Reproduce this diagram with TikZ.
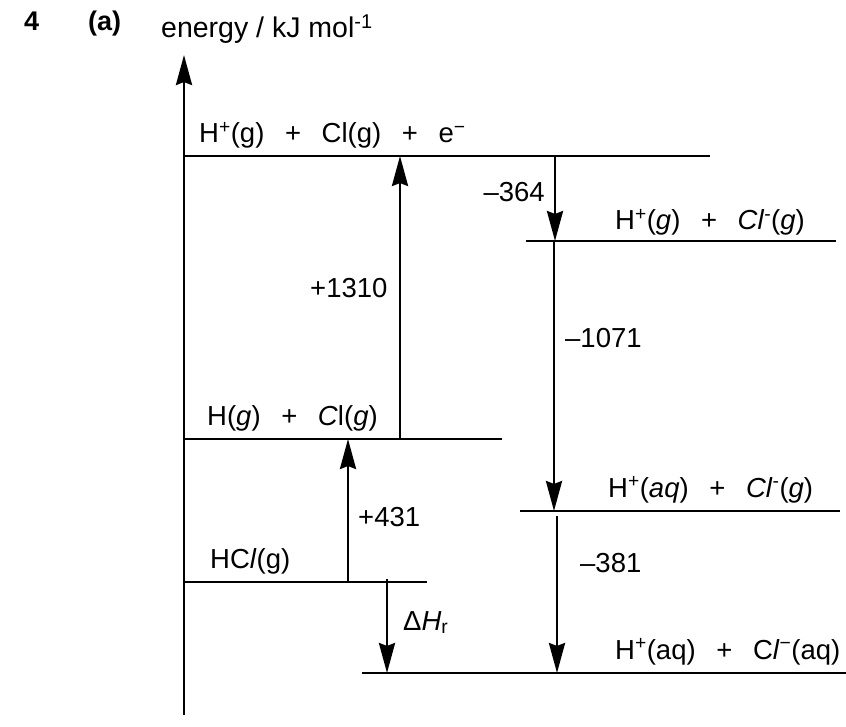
\documentclass[tikz,border=0pt]{standalone}
\usepackage{fontspec}
\setmainfont{Liberation Sans}
\usetikzlibrary{arrows.meta}
\newcommand\gp{\hspace{0.75em}}
\begin{document}
\begin{tikzpicture}[x=1pt,y=-1pt,
  lvl/.style={line width=2.9pt},
  arr/.style={line width=2.9pt,-{Stealth[length=30pt,width=16pt,inset=3pt]}},
  lab/.style={anchor=base west,inner sep=0pt,font=\fontsize{27.5}{32}\selectfont},
  labr/.style={anchor=base east,inner sep=0pt,font=\fontsize{27.5}{32}\selectfont}]
\useasboundingbox (0,0) rectangle (846,727);
% titles
\node[lab,font=\fontsize{27}{31}\selectfont\bfseries] (q) at (24,31) {4};
\node[lab,font=\fontsize{27}{31}\selectfont\bfseries] (pa) at (88,31) {(a)};
\node[lab,font=\fontsize{28.5}{33}\selectfont] (ylab) at (161,38) {energy / kJ mol\textsuperscript{-1}};
% axis
\coordinate (a0) at (184,715);
\coordinate (a1) at (184,55);
\draw[arr] (a0) -- (a1);
% levels
\coordinate (L1a) at (184,156); \coordinate (L1b) at (710,156);
\coordinate (L2a) at (526,241); \coordinate (L2b) at (836,241);
\coordinate (L3a) at (184,439); \coordinate (L3b) at (502,439);
\coordinate (L4a) at (520,511); \coordinate (L4b) at (840,511);
\coordinate (L5a) at (184,582); \coordinate (L5b) at (427,582);
\coordinate (L6a) at (362,673); \coordinate (L6b) at (846,673);
\foreach \l in {1,...,6} {\draw[lvl] (L\l a) -- (L\l b);}
% level labels
\node[lab] (t1) at (199,143) {H\textsuperscript{+}(g)\gp+\gp Cl(g)\gp+\gp e\textsuperscript{−}};
\node[lab] (t2) at (615,230) {H\textsuperscript{+}(\textit{g})\gp+\gp\textit{Cl}\textsuperscript{-}(\textit{g})};
\node[lab] (t3) at (207,425) {H(\textit{g})\gp+\gp\textit{C}l(\textit{g})};
\node[lab] (t4) at (608,497) {H\textsuperscript{+}(\textit{aq})\gp+\gp\textit{Cl}\textsuperscript{-}(\textit{g})};
\node[lab] (t5) at (210,568) {HC\textit{l}(g)};
\node[lab] (t6) at (615,659) {H\textsuperscript{+}(aq)\gp+\gp C\textit{l}\textsuperscript{−}(aq)};
% arrows
\coordinate (p1310a) at (400,439); \coordinate (p1310b) at (400,156);
\draw[arr] (p1310a) -- (p1310b);
\coordinate (m364a) at (555,156); \coordinate (m364b) at (555,241);
\draw[arr] (m364a) -- (m364b);
\coordinate (m1071a) at (554,241); \coordinate (m1071b) at (554,511);
\draw[arr] (m1071a) -- (m1071b);
\coordinate (p431a) at (348,582); \coordinate (p431b) at (348,439);
\draw[arr] (p431a) -- (p431b);
\coordinate (m381a) at (557,516); \coordinate (m381b) at (557,673);
\draw[arr] (m381a) -- (m381b);
\coordinate (dHa) at (387,579); \coordinate (dHb) at (387,673);
\draw[arr] (dHa) -- (dHb);
% values
\node[labr] (v364) at (545,202) {–364};
\node[lab] (v1310) at (310,298) {+1310};
\node[lab] (v1071) at (565,348) {–1071};
\node[lab] (v431) at (358,526) {+431};
\node[lab] (v381) at (580,572) {–381};
\node[lab] (vdH) at (403,630) {Δ\textit{H}\textsubscript{r}};
\end{tikzpicture}
\end{document}
